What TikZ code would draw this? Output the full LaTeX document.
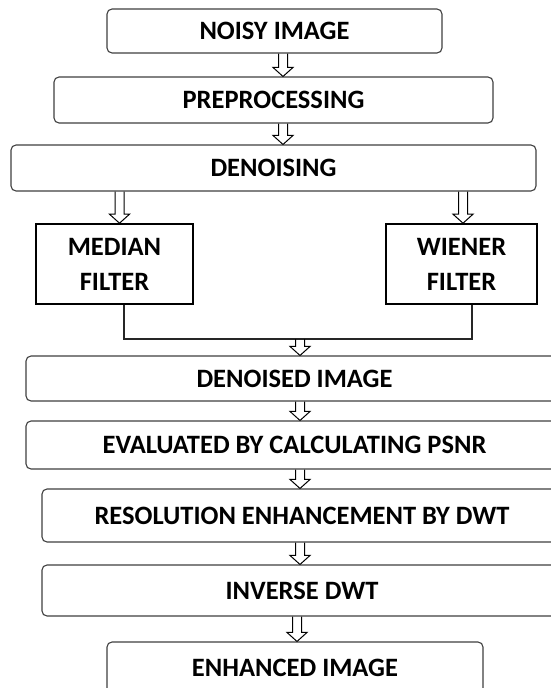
\documentclass[tikz,border=0pt]{standalone}
\usepackage{fontspec}
\setmainfont{Carlito}
\usetikzlibrary{calc}
\newcommand\harrow[2]{\draw[arrowline] let \p1=#1, \p2=#2 in (\x1-4.5pt,\y1) -- (\x1-4.5pt,\y2+9pt) -- (\x1-10pt,\y2+9pt) -- (\x1,\y2) -- (\x1+10pt,\y2+9pt) -- (\x1+4.5pt,\y2+9pt) -- (\x1+4.5pt,\y1);}
\begin{document}
\begin{tikzpicture}[x=1pt,y=-1pt,
  txt/.style={font=\fontsize{26.5}{35}\selectfont\bfseries, text=black},
  rbox/.style={txt, draw=black!75, line width=1.1pt, rounded corners=5pt, inner sep=0pt},
  fbox/.style={txt, draw=black, line width=1.6pt, inner sep=0pt, align=center},
  arrowline/.style={draw=black, line width=1pt, line join=miter},
  link/.style={draw=black!85, line width=1.1pt}]
\useasboundingbox (0,0) rectangle (551,688);
\fill[white] (0,0) rectangle (551,688);
\node[rbox, minimum width=335pt, minimum height=44pt] (n1) at (274.5,31) {NOISY IMAGE};
\node[rbox, minimum width=439pt, minimum height=46pt] (n2) at (273.5,100) {PREPROCESSING};
\node[rbox, minimum width=525pt, minimum height=46pt] (n3) at (273.5,168) {DENOISING};
\node[fbox, minimum width=157pt, minimum height=80pt] (med) at (114.5,264) {MEDIAN\\FILTER};
\node[fbox, minimum width=151pt, minimum height=80pt] (wie) at (461.5,264) {WIENER\\FILTER};
\node[rbox, minimum width=537pt, minimum height=45pt] (dn) at (294.5,378.5) {DENOISED IMAGE};
\node[rbox, minimum width=537pt, minimum height=48pt] (ev) at (294.5,445) {EVALUATED BY CALCULATING PSNR};
\node[rbox, minimum width=520pt, minimum height=53pt] (res) at (302,515.5) {RESOLUTION ENHANCEMENT BY DWT};
\node[rbox, minimum width=520pt, minimum height=51pt] (inv) at (302,590.5) {INVERSE DWT};
\node[rbox, minimum width=376pt, minimum height=51pt] (enh) at (295,667.5) {ENHANCED IMAGE};
\coordinate (x283) at (283,0);
\coordinate (xl) at (119.5,0);
\coordinate (xr) at (463,0);
\coordinate (x300) at (300,0);
\coordinate (x297) at (297,0);
\coordinate (m) at (300,339);
\harrow{(n1.south -| x283)}{(n2.north -| x283)}
\harrow{(n2.south -| x283)}{(n3.north -| x283)}
\harrow{(n3.south -| xl)}{(med.north -| xl)}
\harrow{(n3.south -| xr)}{(wie.north -| xr)}
\draw[link] ([xshift=9.5pt]med.south) |- (m) -| ([xshift=10.5pt]wie.south);
\harrow{(m)}{(dn.north -| x300)}
\harrow{(dn.south -| x300)}{(ev.north -| x300)}
\harrow{(ev.south -| x300)}{(res.north -| x300)}
\harrow{(res.south -| x300)}{(inv.north -| x300)}
\harrow{(inv.south -| x297)}{(enh.north -| x297)}
\end{tikzpicture}
\end{document}
